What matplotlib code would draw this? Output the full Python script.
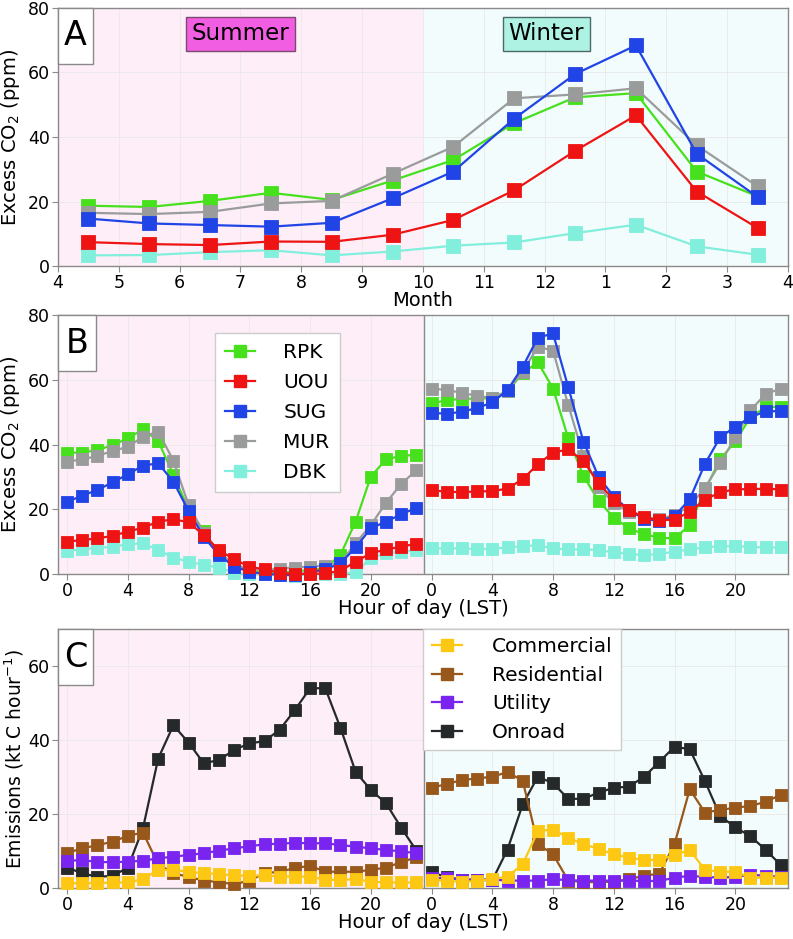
import numpy as np
import matplotlib
matplotlib.use("Agg")
import matplotlib.pyplot as plt
from matplotlib.patches import Rectangle
from matplotlib.lines import Line2D

# =========================
# DATA
# =========================
month_labels = ["4", "5", "6", "7", "8", "9", "10", "11", "12", "1", "2", "3", "4"]

rpk_month = [18.7, 18.3, 20.2, 22.7, 20.5, 26.5, 32.9, 44.3, 52.3, 53.6, 29.3, 21.6]
uou_month = [7.4, 6.8, 6.5, 7.6, 7.5, 9.7, 14.3, 23.5, 35.7, 46.7, 23.1, 11.8]
sug_month = [14.7, 13.2, 12.7, 12.2, 13.4, 21.0, 29.3, 45.7, 59.5, 68.4, 34.8, 21.4]
mur_month = [16.5, 16.1, 16.8, 19.4, 20.2, 28.6, 37.0, 52.0, 53.2, 55.1, 37.4, 24.7]
dbk_month = [3.3, 3.4, 4.3, 4.9, 3.3, 4.5, 6.3, 7.3, 10.2, 12.8, 6.1, 3.5]

rpk_summer = [37.5, 37.5, 38.3, 39.8, 41.9, 44.7, 41.1, 30.6, 20.0, 13.2, 6.5, 3.0,
              1.0, 0.5, 0.5, 0.8, 1.2, 1.8, 5.9, 16.2, 30.1, 35.4, 36.5, 36.8]
uou_summer = [10.0, 10.5, 11.0, 11.8, 13.1, 14.3, 16.2, 16.9, 16.0, 12.0, 7.4, 4.5,
              2.3, 1.4, 0.4, 0.0, 0.0, 0.2, 1.0, 3.8, 6.4, 7.6, 8.4, 9.4]
sug_summer = [22.3, 24.2, 26.0, 28.3, 30.8, 33.5, 34.2, 28.5, 19.5, 11.5, 5.9, 2.3,
              0.7, 0.0, -0.2, -0.4, 0.5, 1.4, 3.3, 8.2, 14.1, 16.2, 18.4, 20.5]
mur_summer = [34.7, 35.4, 36.5, 38.0, 39.3, 42.4, 44.0, 35.0, 21.3, 12.7, 6.5, 3.0,
              1.5, 1.2, 1.7, 2.0, 2.3, 2.6, 3.5, 9.5, 15.1, 22.0, 27.8, 32.1]
dbk_summer = [7.2, 7.6, 8.1, 8.4, 9.2, 9.5, 7.4, 5.1, 3.8, 2.8, 2.0, 0.4,
              -0.1, -0.1, -0.3, -0.5, 0.0, 0.0, 0.0, 0.5, 5.0, 6.4, 6.9, 7.4]

rpk_winter = [52.7, 53.7, 54.1, 54.2, 54.3, 56.5, 62.0, 65.4, 57.3, 41.9, 30.3, 22.6,
              17.4, 14.1, 12.3, 11.2, 11.0, 15.1, 26.0, 35.4, 41.0, 48.5, 51.5, 51.7]
uou_winter = [25.9, 25.4, 25.3, 25.5, 25.6, 26.4, 29.3, 33.9, 37.5, 38.5, 34.9, 28.0,
              23.0, 19.7, 17.6, 16.6, 16.8, 19.2, 23.0, 25.2, 26.2, 26.2, 26.4, 26.1]
sug_winter = [49.8, 49.5, 50.1, 51.3, 53.0, 56.8, 64.0, 73.0, 74.3, 57.7, 40.9, 30.0,
              23.9, 19.7, 17.1, 16.3, 17.9, 23.1, 34.0, 42.2, 45.5, 48.4, 50.3, 50.3]
mur_winter = [57.3, 56.8, 56.0, 55.0, 54.4, 56.5, 62.5, 70.2, 69.0, 52.2, 36.5, 26.9,
              21.8, 19.2, 17.4, 17.1, 18.2, 21.0, 26.6, 34.2, 42.2, 50.6, 55.6, 57.3]
dbk_winter = [7.9, 7.9, 7.9, 7.7, 7.8, 8.2, 8.6, 8.9, 7.9, 7.6, 7.6, 7.4,
              6.7, 6.2, 5.8, 6.2, 6.9, 7.6, 8.2, 8.6, 8.6, 8.4, 8.2, 8.2]

commercial_summer = [1.3, 1.3, 1.3, 1.5, 1.5, 2.4, 4.9, 4.9, 4.4, 4.0, 3.8, 3.4,
                     3.3, 3.4, 3.1, 3.1, 3.1, 2.2, 2.2, 2.4, 1.7, 1.5, 1.5, 1.5]
residential_summer = [9.5, 10.7, 11.6, 12.5, 14.1, 15.0, 6.4, 4.0, 3.0, 2.0, 1.6, 1.0,
                      2.0, 4.0, 4.4, 5.4, 6.0, 4.4, 4.4, 4.4, 4.9, 5.5, 7.0, 8.3]
utility_summer = [7.3, 7.6, 7.0, 7.0, 7.1, 7.4, 8.0, 8.5, 8.9, 9.4, 10.1, 10.7,
                  11.3, 11.8, 12.0, 12.2, 12.1, 12.1, 11.6, 11.2, 10.7, 10.3, 9.9, 9.4]
onroad_summer = [5.5, 4.0, 3.0, 3.3, 5.5, 16.2, 35.0, 44.0, 39.3, 33.7, 34.6, 37.3,
                 39.1, 39.7, 42.8, 48.1, 54.0, 54.0, 43.3, 31.4, 26.5, 22.9, 16.3, 10.1]

commercial_winter = [2.2, 1.9, 1.7, 1.9, 2.4, 3.1, 6.4, 15.4, 15.8, 13.6, 11.8, 10.6,
                     9.1, 8.2, 7.6, 7.6, 8.9, 10.3, 4.9, 4.4, 4.4, 2.8, 2.8, 2.8]
residential_winter = [27.1, 28.1, 29.2, 29.6, 30.1, 31.3, 29.0, 11.9, 9.1, 2.0, 1.6, 1.6,
                      1.7, 2.4, 3.3, 3.9, 11.9, 26.7, 20.4, 21.1, 21.7, 22.2, 23.3, 25.2]
utility_winter = [2.8, 2.6, 2.3, 2.3, 2.3, 2.0, 2.0, 2.0, 2.4, 2.1, 2.0, 2.0,
                  2.0, 2.0, 1.9, 1.9, 2.8, 3.3, 3.0, 2.8, 3.0, 3.6, 3.3, 3.0]
onroad_winter = [4.2, 3.0, 2.2, 2.2, 2.1, 10.4, 22.6, 30.1, 28.3, 24.1, 24.1, 25.8,
                 27.1, 27.4, 30.1, 34.1, 38.2, 37.5, 28.9, 19.5, 16.4, 14.0, 10.3, 6.2]

# =========================
# STYLE
# =========================
SUMMER_BG = "#fdeef7"
WINTER_BG = "#f2fcfc"
SPINE = "#8a8a8a"
GRID = "#e9e9e9"

site_style = {
    "RPK": "#47e01d",
    "UOU": "#ee1414",
    "SUG": "#2144e6",
    "MUR": "#9a9c9c",
    "DBK": "#82eedc",
}
sector_style = {
    "Commercial": "#fcc814",
    "Residential": "#98571b",
    "Utility": "#7a24f0",
    "Onroad": "#262929",
}

plt.rcParams["font.family"] = ["DejaVu Sans"]

fig = plt.figure(figsize=(7.93, 9.39), dpi=100)
L, W = 0.0731, 0.9206
axA = fig.add_axes([L, 0.7167, W, 0.2748])
axB = fig.add_axes([L, 0.3887, W, 0.2758])
axC = fig.add_axes([L, 0.0543, W, 0.2758])


def style_axes(ax):
    for s in ax.spines.values():
        s.set_color(SPINE)
        s.set_linewidth(1.0)
    ax.tick_params(direction="out", length=4, width=0.8, color=SPINE,
                   labelsize=12.5, pad=2)
    ax.grid(True, color=GRID, lw=0.6, zorder=0)
    ax.set_axisbelow(True)


def panel_letter(ax, letter, w):
    ax.add_patch(Rectangle((0, 1 - 0.216), w, 0.216, transform=ax.transAxes,
                           facecolor="white", edgecolor=SPINE, lw=1.0, zorder=6,
                           clip_on=False))
    ax.text(w / 2, 1 - 0.108, letter, transform=ax.transAxes, fontsize=24,
            ha="center", va="center", zorder=7)


def draw(ax, x, y, color, ms, z):
    ax.plot(x, y, color=color, lw=1.6, marker="s", ms=ms, mfc=color,
            mec=color, mew=0.6, zorder=z, clip_on=False)


# =========================
# PANEL A
# =========================
style_axes(axA)
axA.axvspan(4, 10, color=SUMMER_BG, zorder=0, lw=0)
axA.axvspan(10, 16, color=WINTER_BG, zorder=0, lw=0)
xm = np.arange(len(rpk_month)) + 4.5
order = [("DBK", dbk_month), ("RPK", rpk_month), ("MUR", mur_month),
         ("SUG", sug_month), ("UOU", uou_month)]
for i, (name, vals) in enumerate(order):
    draw(axA, xm, vals, site_style[name], 10.5, 3 + i)
axA.set_xlim(4, 16)
axA.set_ylim(0, 80)
axA.set_xticks(np.arange(4, 17))
axA.set_xticklabels(month_labels)
axA.set_yticks([0, 20, 40, 60, 80])
axA.set_xlabel("Month", fontsize=14, labelpad=-1)
axA.set_ylabel("Excess CO$_2$ (ppm)", fontsize=14)
axA.text(7.0, 72, "Summer", fontsize=16.5, ha="center", va="center",
         bbox=dict(boxstyle="square,pad=0.25", fc="#f25ee1", ec="#7a4a70", lw=1))
axA.text(12.03, 72, "Winter", fontsize=16.5, ha="center", va="center",
         bbox=dict(boxstyle="square,pad=0.25", fc="#aef2e3", ec="#4a6a66", lw=1))
panel_letter(axA, "A", 0.048)

# =========================
# PANEL B
# =========================
hours = np.arange(24)
style_axes(axB)
axB.axvspan(-0.6, 23.5, color=SUMMER_BG, zorder=0, lw=0)
axB.axvspan(23.5, 47.5, color=WINTER_BG, zorder=0, lw=0)
axB.axvline(23.5, color=SPINE, lw=1.0, zorder=2)
summer_sets = {"RPK": rpk_summer, "UOU": uou_summer, "SUG": sug_summer,
               "MUR": mur_summer, "DBK": dbk_summer}
winter_sets = {"RPK": rpk_winter, "UOU": uou_winter, "SUG": sug_winter,
               "MUR": mur_winter, "DBK": dbk_winter}
for i, name in enumerate(["DBK", "RPK", "MUR", "SUG", "UOU"]):
    draw(axB, hours, summer_sets[name], site_style[name], 8.5, 3 + i)
    draw(axB, hours + 24, winter_sets[name], site_style[name], 8.5, 3 + i)
axB.set_xlim(-0.6, 47.47)
axB.set_ylim(0, 80)
ticks = list(range(0, 24, 4)) + list(range(24, 48, 4))
axB.set_xticks(ticks)
axB.set_xticklabels([str(t % 24) for t in ticks])
axB.set_yticks([0, 20, 40, 60, 80])
axB.set_xlabel("Hour of day (LST)", fontsize=14, labelpad=-1)
axB.set_ylabel("Excess CO$_2$ (ppm)", fontsize=14)
handles = [Line2D([], [], color=site_style[n], marker="s", ms=8.5, lw=1.6)
           for n in ["RPK", "UOU", "SUG", "MUR", "DBK"]]
legB = axB.legend(handles, ["RPK", "UOU", "SUG", "MUR", "DBK"],
                  loc="upper left", bbox_to_anchor=(0.215, 0.931),
                  fontsize=14.5, frameon=True, fancybox=False, framealpha=1,
                  edgecolor="#cccccc", handlelength=1.5, handletextpad=1.4,
                  labelspacing=0.55, borderpad=0.5, borderaxespad=0)
legB.set_zorder(10)
panel_letter(axB, "B", 0.052)

# =========================
# PANEL C
# =========================
style_axes(axC)
axC.axvspan(-0.6, 23.5, color=SUMMER_BG, zorder=0, lw=0)
axC.axvspan(23.5, 47.5, color=WINTER_BG, zorder=0, lw=0)
axC.axvline(23.5, color=SPINE, lw=1.0, zorder=2)
c_summer = {"Commercial": commercial_summer, "Residential": residential_summer,
            "Utility": utility_summer, "Onroad": onroad_summer}
c_winter = {"Commercial": commercial_winter, "Residential": residential_winter,
            "Utility": utility_winter, "Onroad": onroad_winter}
for i, name in enumerate(["Onroad", "Residential", "Utility", "Commercial"]):
    draw(axC, hours, c_summer[name], sector_style[name], 9, 3 + i)
    draw(axC, hours + 24, c_winter[name], sector_style[name], 9, 3 + i)
axC.set_xlim(-0.6, 47.47)
axC.set_ylim(0, 70)
axC.set_xticks(ticks)
axC.set_xticklabels([str(t % 24) for t in ticks])
axC.set_yticks([0, 20, 40, 60])
axC.set_xlabel("Hour of day (LST)", fontsize=14, labelpad=-1)
axC.set_ylabel("Emissions (kt C hour$^{-1}$)", fontsize=13.5, labelpad=1)
sectors = ["Commercial", "Residential", "Utility", "Onroad"]
handles = [Line2D([], [], color=sector_style[n], marker="s", ms=9, lw=1.6)
           for n in sectors]
legC = axC.legend(handles, sectors, loc="upper left",
                  bbox_to_anchor=(0.5007, 1.0), fontsize=14.5, frameon=True,
                  fancybox=False, framealpha=1, edgecolor="#cccccc",
                  handlelength=1.5, handletextpad=1.5, labelspacing=0.48,
                  borderpad=0.4, borderaxespad=0)
legC.set_zorder(10)
panel_letter(axC, "C", 0.048)

fig.savefig("out.png", dpi=100)
